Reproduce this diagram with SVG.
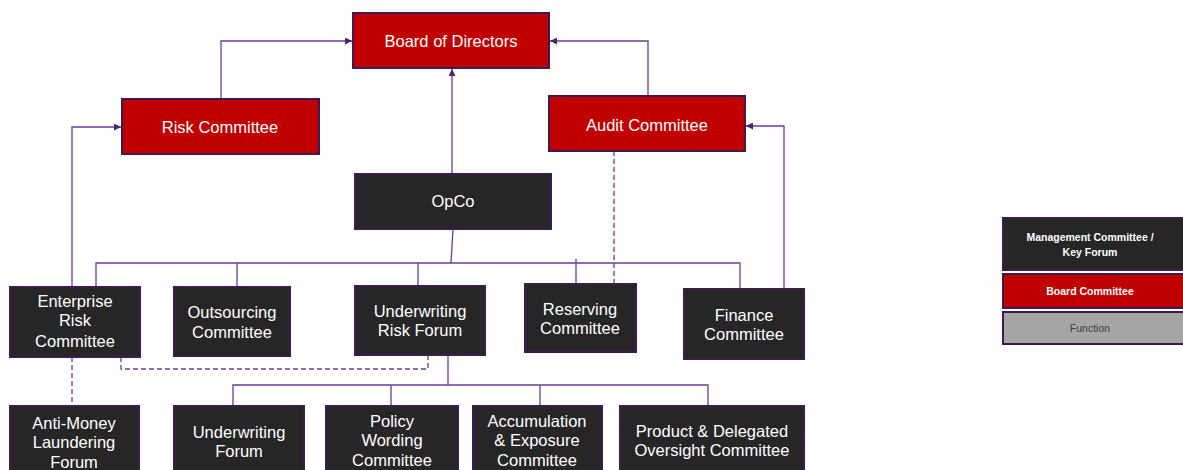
<svg xmlns="http://www.w3.org/2000/svg" width="1183" height="470" viewBox="0 0 1183 470">
<style>
.red{fill:#c00000;stroke:#3d1a4f;stroke-width:2}
.dark{fill:#262626;stroke:#3d1a4f;stroke-width:2}
.gray{fill:#a6a6a6;stroke:#3d1a4f;stroke-width:2}
.t{font-family:"Liberation Sans",Arial,sans-serif;font-size:16.5px;fill:#ffffff;text-anchor:middle}
.lg{font-family:"Liberation Sans",Arial,sans-serif;font-size:10.5px;font-weight:bold;fill:#ffffff;text-anchor:middle}
.ln{fill:none;stroke:#6a3d96;stroke-width:1.3}
.ds{fill:none;stroke:#6a3d96;stroke-width:1.3;stroke-dasharray:5,3}
</style>
<defs>
<marker id="ah" viewBox="0 0 10 10" refX="10" refY="5" markerWidth="7" markerHeight="7" orient="auto" markerUnits="userSpaceOnUse">
<path d="M0,0 L10,5 L0,10 z" fill="#4b2470"/>
</marker>
</defs>
<rect width="1183" height="470" fill="#ffffff"/>
<g id="connectors">
<polyline class="ln" points="221,99 221,41 352,41" marker-end="url(#ah)"/>
<polyline class="ln" points="648,96 648,41 550,41" marker-end="url(#ah)"/>
<polyline class="ln" points="452,174 452,69" marker-end="url(#ah)"/>
<polyline class="ln" points="72,287 72,127 121,127" marker-end="url(#ah)"/>
<polyline class="ln" points="784,289 784,126 746,126" marker-end="url(#ah)"/>
<line class="ds" x1="614" y1="151" x2="614" y2="284"/>
<polyline class="ln" points="453,229 451,263"/>
<polyline class="ln" points="96,287 96,263 740,263 740,289"/>
<line class="ln" x1="237" y1="263" x2="237" y2="287"/>
<line class="ln" x1="418" y1="263" x2="418" y2="286"/>
<line class="ln" x1="576" y1="259" x2="576" y2="284"/>
<line class="ds" x1="72" y1="357" x2="72" y2="406"/>
<polyline class="ds" points="121,357 121,369 428,369 428,355"/>
<polyline class="ln" points="448,355 448,385"/>
<polyline class="ln" points="233,406 233,385 708,385 708,406"/>
<line class="ln" x1="391" y1="385" x2="391" y2="406"/>
<line class="ln" x1="540" y1="385" x2="540" y2="406"/>
</g>
<g id="board">
<rect class="red" x="353" y="13" width="196" height="55"/>
<text class="t" x="451" y="47">Board of Directors</text>
</g>
<g id="risk-committee">
<rect class="red" x="122" y="99" width="197" height="55"/>
<text class="t" x="220" y="133">Risk Committee</text>
</g>
<g id="audit-committee">
<rect class="red" x="549" y="96" width="196" height="55"/>
<text class="t" x="647" y="131">Audit Committee</text>
</g>
<g id="opco">
<rect class="dark" x="355" y="174" width="196" height="55"/>
<text class="t" x="453" y="207">OpCo</text>
</g>
<g id="erc">
<rect class="dark" x="10" y="287" width="130" height="70"/>
<text class="t" x="75" y="307">Enterprise</text>
<text class="t" x="75" y="326">Risk</text>
<text class="t" x="75" y="347">Committee</text>
</g>
<g id="outsourcing">
<rect class="dark" x="174" y="287" width="116" height="69"/>
<text class="t" x="232" y="318">Outsourcing</text>
<text class="t" x="232" y="338">Committee</text>
</g>
<g id="urf">
<rect class="dark" x="355" y="286" width="130" height="69"/>
<text class="t" x="420" y="317">Underwriting</text>
<text class="t" x="420" y="336">Risk Forum</text>
</g>
<g id="reserving">
<rect class="dark" x="525" y="284" width="111" height="68"/>
<text class="t" x="580" y="315">Reserving</text>
<text class="t" x="580" y="334">Committee</text>
</g>
<g id="finance">
<rect class="dark" x="684" y="289" width="120" height="70"/>
<text class="t" x="744" y="321">Finance</text>
<text class="t" x="744" y="340">Committee</text>
</g>
<g id="aml">
<rect class="dark" x="10" y="406" width="129" height="70"/>
<text class="t" x="74" y="429">Anti-Money</text>
<text class="t" x="74" y="448">Laundering</text>
<text class="t" x="74" y="468">Forum</text>
</g>
<g id="uw-forum">
<rect class="dark" x="174" y="406" width="130" height="70"/>
<text class="t" x="239" y="438">Underwriting</text>
<text class="t" x="239" y="457">Forum</text>
</g>
<g id="policy">
<rect class="dark" x="326" y="406" width="132" height="70"/>
<text class="t" x="392" y="427">Policy</text>
<text class="t" x="392" y="446">Wording</text>
<text class="t" x="392" y="466">Committee</text>
</g>
<g id="accumulation">
<rect class="dark" x="473" y="406" width="129" height="70"/>
<text class="t" x="537" y="427">Accumulation</text>
<text class="t" x="537" y="446">&amp; Exposure</text>
<text class="t" x="537" y="466">Committee</text>
</g>
<g id="product">
<rect class="dark" x="620" y="406" width="184" height="70"/>
<text class="t" x="712" y="437">Product &amp; Delegated</text>
<text class="t" x="712" y="456">Oversight Committee</text>
</g>
<g id="legend-mgmt">
<rect class="dark" x="1003" y="218" width="185" height="52"/>
<text class="lg" x="1090" y="241">Management Committee /</text>
<text class="lg" x="1090" y="256">Key Forum</text>
</g>
<g id="legend-board">
<rect class="red" x="1003" y="274" width="185" height="34"/>
<text class="lg" x="1090" y="295">Board Committee</text>
</g>
<g id="legend-function">
<rect class="gray" x="1003" y="312" width="185" height="32"/>
<text class="lg" x="1090" y="332" style="fill:#404040;font-weight:normal">Function</text>
</g>
</svg>
